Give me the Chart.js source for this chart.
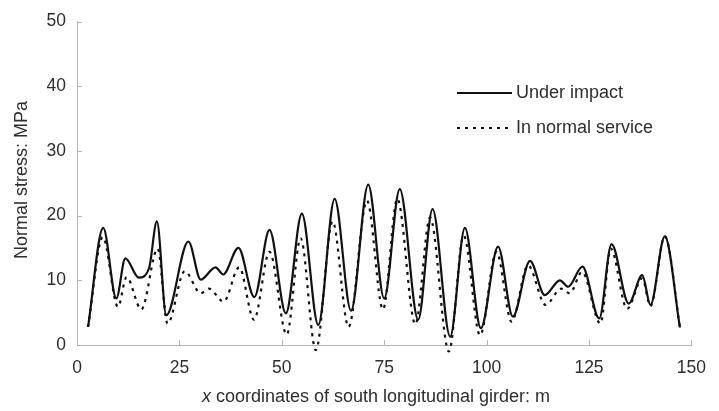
<!DOCTYPE html>
<html><head><meta charset="utf-8">
<script src="https://cdn.jsdelivr.net/npm/chart.js@4/dist/chart.umd.min.js"></script>
<style>html,body{margin:0;padding:0;background:#fff;}#wrap{position:relative;width:719px;height:411px;}</style>
</head><body><div id="wrap"><canvas id="c" width="719" height="411"></canvas></div>
<script>
// ---- data ----
const impactX = [2.7, 6.4, 9.6, 11.8, 15.1, 17.6, 19.5, 21.8, 27.2, 30.2, 33.8, 35.7, 39.4, 43.3, 47.0, 51.0, 54.9, 58.9, 62.9, 66.9, 71.1, 75.0, 78.8, 83.3, 86.8, 91.1, 94.7, 98.6, 102.8, 106.4, 110.6, 114.2, 117.9, 119.9, 123.4, 127.5, 130.5, 134.7, 138.0, 140.0, 143.5, 147.2];
const impactY = [2.8, 18.1, 7.2, 13.4, 10.4, 11.9, 19.1, 4.6, 16.0, 10.1, 12.0, 10.9, 15.0, 7.4, 17.8, 4.9, 20.3, 3.1, 22.6, 5.3, 24.8, 7.2, 24.1, 3.9, 21.0, 1.3, 18.1, 2.6, 15.2, 4.4, 13.0, 7.7, 10.0, 9.0, 12.1, 4.1, 15.6, 6.4, 10.8, 6.2, 16.8, 2.7];
const normalX = [2.7, 6.3, 10.0, 12.1, 15.7, 19.7, 22.1, 26.3, 30.2, 32.2, 35.8, 39.6, 43.2, 47.0, 51.2, 54.6, 58.3, 62.4, 66.3, 70.8, 74.7, 78.2, 82.6, 86.2, 90.8, 94.4, 98.4, 102.4, 106.1, 110.1, 114.4, 118.2, 120.3, 123.3, 127.8, 130.3, 134.3, 138.0, 140.0, 143.5, 147.2];
const normalY = [2.8, 16.7, 5.9, 10.5, 5.5, 14.9, 3.3, 11.4, 8.0, 8.7, 6.7, 12.0, 3.9, 14.4, 1.6, 16.5, -0.8, 19.1, 2.8, 22.3, 5.5, 22.6, 3.2, 19.7, -1.0, 16.9, 1.5, 14.4, 3.6, 12.3, 6.2, 8.7, 8.0, 11.3, 3.3, 14.9, 5.6, 10.3, 6.0, 16.8, 2.7];
const xTickValues = [0, 25, 50, 75, 100, 125, 150];
const yTickValues = [0, 10, 20, 30, 40, 50];
const seriesLabels = ['Under impact', 'In normal service'];
const xTitleParts = ['x', ' coordinates of south longitudinal girder: m'];
const yTitleText = 'Normal stress: MPa';

const FONT = '"Liberation Sans", Arial, sans-serif';
const TXT = '#2e2e2e';
const AXIS = '#b4b4b4';

const toPts = (xs, ys) => xs.map((x, i) => ({x: x, y: ys[i]}));

const decor = {
  id: 'decor',
  afterDraw(chart) {
    const ctx = chart.ctx;
    const xs = chart.scales.x, ys = chart.scales.y;
    const ca = chart.chartArea;
    ctx.save();
    // inward tick marks
    ctx.strokeStyle = AXIS; ctx.lineWidth = 1;
    ctx.beginPath();
    xTickValues.forEach(v => {
      if (v === 0) return;
      const px = Math.round(xs.getPixelForValue(v)) + 0.5;
      ctx.moveTo(px, ca.bottom); ctx.lineTo(px, ca.bottom - 5);
    });
    yTickValues.forEach(v => {
      if (v === 0) return;
      const py = Math.round(ys.getPixelForValue(v)) + 0.5;
      ctx.moveTo(ca.left, py); ctx.lineTo(ca.left + 5, py);
    });
    ctx.stroke();
    // y title
    ctx.fillStyle = TXT;
    ctx.font = '18px ' + FONT;
    ctx.textAlign = 'center'; ctx.textBaseline = 'middle';
    ctx.save();
    ctx.translate(22, 180);
    ctx.rotate(-Math.PI / 2);
    ctx.fillText(yTitleText, 0, 0);
    ctx.restore();
    // x title with italic x
    ctx.textAlign = 'left';
    ctx.font = 'italic 18px ' + FONT;
    const w1 = ctx.measureText(xTitleParts[0]).width;
    ctx.font = '18px ' + FONT;
    const w2 = ctx.measureText(xTitleParts[1]).width;
    const cx = 376, ty = 397;
    let sx = cx - (w1 + w2) / 2;
    ctx.font = 'italic 18px ' + FONT;
    ctx.fillText(xTitleParts[0], sx, ty);
    ctx.font = '18px ' + FONT;
    ctx.fillText(xTitleParts[1], sx + w1, ty);
    // legend
    const rows = [93, 128];
    chart.data.datasets.forEach((ds, i) => {
      const y = rows[i];
      ctx.strokeStyle = '#111';
      ctx.lineWidth = 2;
      ctx.setLineDash(ds.borderDash || []);
      ctx.beginPath(); ctx.moveTo(457, y); ctx.lineTo(512, y); ctx.stroke();
      ctx.setLineDash([]);
      ctx.fillStyle = TXT;
      ctx.font = '18px ' + FONT;
      ctx.textBaseline = 'middle';
      ctx.fillText(ds.label, 516, y);
    });
    ctx.restore();
  }
};

new Chart(document.getElementById('c'), {
  type: 'line',
  data: {
    datasets: [
      { label: seriesLabels[0], data: toPts(impactX, impactY), borderColor: '#111', borderWidth: 2.2,
        pointRadius: 0, fill: false, cubicInterpolationMode: 'monotone', clip: {left: 5, right: 5, top: 5, bottom: 12} },
      { label: seriesLabels[1], data: toPts(normalX, normalY), borderColor: '#111', borderWidth: 2.2,
        borderDash: [3, 5], pointRadius: 0, fill: false, cubicInterpolationMode: 'monotone', clip: {left: 5, right: 5, top: 5, bottom: 12} }
    ]
  },
  options: {
    responsive: false, animation: false, devicePixelRatio: 1,
    layout: { padding: { top: 19, right: 15, left: 0, bottom: 0 } },
    plugins: { legend: { display: false }, tooltip: { enabled: false } },
    scales: {
      x: {
        type: 'linear', min: 0, max: 150,
        afterFit: s => { s.height = 66; },
        afterBuildTicks: s => { s.ticks = xTickValues.map(v => ({value: v})); },
        grid: { display: true, drawOnChartArea: false, drawTicks: false },
        border: { display: true, color: AXIS, width: 1 },
        ticks: { color: TXT, font: { family: FONT, size: 17.5 }, padding: 13, maxRotation: 0 }
      },
      y: {
        min: 0, max: 50,
        afterFit: s => { s.width = 77; },
        afterBuildTicks: s => { s.ticks = yTickValues.map(v => ({value: v})); },
        grid: { display: true, drawOnChartArea: false, drawTicks: false },
        border: { display: true, color: AXIS, width: 1 },
        ticks: { color: TXT, font: { family: FONT, size: 17.5 }, padding: 11 }
      }
    }
  },
  plugins: [decor]
});
</script></body></html>
